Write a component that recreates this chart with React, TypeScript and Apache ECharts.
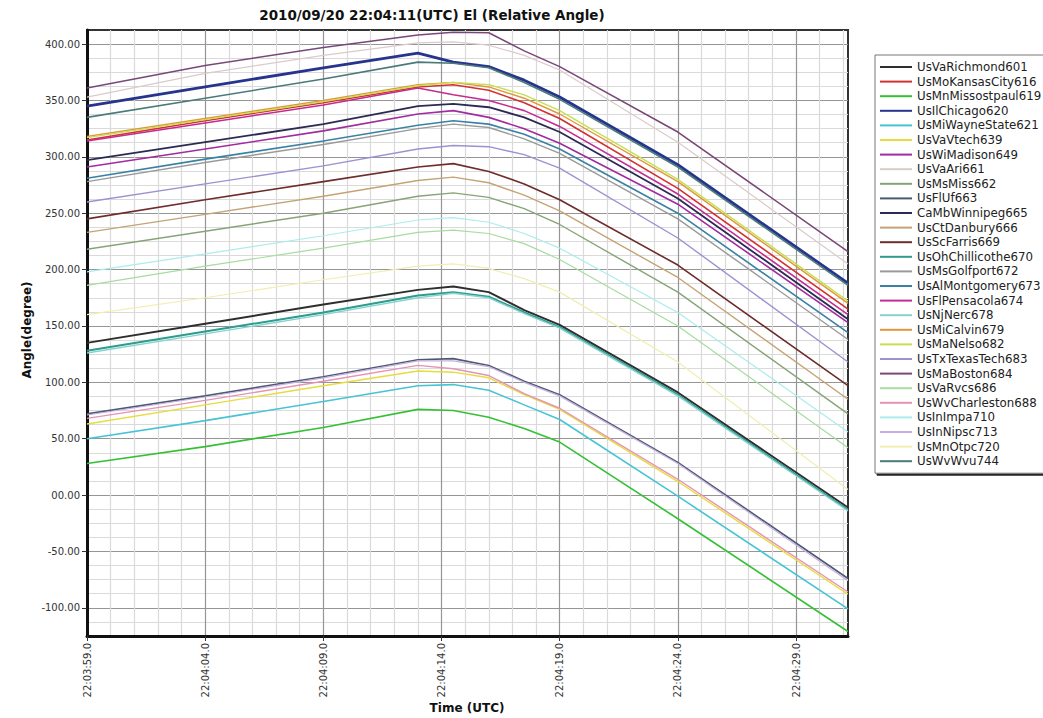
import React, { useEffect, useRef } from "react";
import * as echarts from "echarts";

// seconds after 22:03:59.0 (UTC)
const times = [0, 5, 10, 14, 15.5, 17, 18.5, 20, 25, 32.2];

const seriesNames = [
  "UsVaRichmond601", "UsMoKansasCity616", "UsMnMissostpaul619", "UsIlChicago620",
  "UsMiWayneState621", "UsVaVtech639", "UsWiMadison649", "UsVaAri661",
  "UsMsMiss662", "UsFlUf663", "CaMbWinnipeg665", "UsCtDanbury666",
  "UsScFarris669", "UsOhChillicothe670", "UsMsGolfport672", "UsAlMontgomery673",
  "UsFlPensacola674", "UsNjNerc678", "UsMiCalvin679", "UsMaNelso682",
  "UsTxTexasTech683", "UsMaBoston684", "UsVaRvcs686", "UsWvCharleston688",
  "UsInImpa710", "UsInNipsc713", "UsMnOtpc720", "UsWvWvu744",
];

const seriesColors = [
  "#2e2e2e", "#d43030", "#36c036", "#26348e",
  "#46c4d4", "#e6dc3c", "#a02ca0", "#dccaca",
  "#86a478", "#4c5a70", "#2a2a52", "#c4a474",
  "#6e2c2c", "#2e9c8c", "#9a9a9a", "#3a82a4",
  "#c42c92", "#86d2d2", "#e0963e", "#c4e050",
  "#9c92d2", "#7a4878", "#a8dca0", "#e494b4",
  "#acecec", "#c6aee2", "#f0eeb0", "#4a7a7a",
];

const seriesValues: number[][] = [
  [135, 152, 169, 182, 185, 180, 164, 151, 91, -11],      // UsVaRichmond601
  [315, 332, 348, 362, 364, 359, 348, 334, 272, 165],     // UsMoKansasCity616
  [28, 43, 60, 76, 75, 69, 59, 47, -21, -121],            // UsMnMissostpaul619
  [345, 362, 379, 392, 384, 380, 368, 353, 293, 188],     // UsIlChicago620
  [50, 66, 83, 97, 98, 93, 80, 67, -1, -101],             // UsMiWayneState621
  [63, 80, 97, 110, 109, 104, 89, 76, 12, -88],           // UsVaVtech639
  [291, 307, 323, 338, 341, 335, 325, 312, 258, 153],     // UsWiMadison649
  [353, 374, 390, 401, 402, 399, 390, 377, 313, 205],     // UsVaAri661
  [218, 234, 250, 265, 268, 264, 254, 240, 180, 72],      // UsMsMiss662
  [72, 88, 105, 120, 121, 115, 101, 89, 29, -74],         // UsFlUf663
  [297, 313, 329, 345, 347, 344, 335, 322, 263, 156],     // CaMbWinnipeg665
  [233, 249, 265, 279, 282, 277, 266, 252, 193, 85],      // UsCtDanbury666
  [245, 262, 278, 291, 294, 287, 276, 262, 204, 97],      // UsScFarris669
  [128, 145, 162, 177, 180, 176, 162, 149, 89, -13],      // UsOhChillicothe670
  [278, 295, 311, 325, 329, 326, 316, 303, 245, 138],     // UsMsGolfport672
  [281, 298, 314, 328, 332, 329, 320, 307, 250, 144],     // UsAlMontgomery673
  [314, 330, 346, 361, 355, 350, 341, 327, 267, 160],     // UsFlPensacola674
  [126, 143, 160, 175, 179, 175, 161, 148, 88, -14],      // UsNjNerc678
  [318, 334, 350, 364, 366, 362, 352, 338, 278, 170],     // UsMiCalvin679
  [317, 333, 349, 363, 366, 364, 355, 341, 280, 172],     // UsMaNelso682
  [260, 276, 292, 307, 310, 309, 302, 290, 228, 118],     // UsTxTexasTech683
  [361, 381, 397, 408, 410.5, 410, 394, 380, 322, 216],   // UsMaBoston684
  [186, 203, 219, 233, 235, 232, 223, 209, 150, 42],      // UsVaRvcs686
  [68, 84, 101, 115, 112, 106, 90, 77, 14, -86],          // UsWvCharleston688
  [198, 214, 230, 244, 246, 242, 232, 219, 162, 56],      // UsInImpa710
  [71, 87, 104, 119, 119, 114, 100, 88, 28, -76],         // UsInNipsc713
  [160, 175, 191, 203, 205, 201, 192, 180, 118, 5],       // UsMnOtpc720
  [335, 352, 369, 384, 383, 379, 366, 351, 291, 186],     // UsWvWvu744
];

const seriesWidths = [
  2, 1.6, 1.6, 2.8, 1.6, 1.4, 1.6, 1.2, 1.4, 1.6, 1.8, 1.4, 1.6, 2, 1.4, 1.6,
  1.6, 1.4, 1.4, 1.4, 1.4, 1.6, 1.2, 1.4, 1.2, 1.2, 1.2, 1.6,
];

const xMajorTicks = [0, 5, 10, 15, 20, 25, 30];
const yMajorTicks = [-100, -50, 0, 50, 100, 150, 200, 250, 300, 350, 400];

const X_MIN = 0;
const X_MAX = 32.2;
const Y_MIN = -125;
const Y_MAX = 412.5;

const TITLE = "2010/09/20 22:04:11(UTC) El (Relative Angle)";
const X_NAME = "Time (UTC)";
const Y_NAME = "Angle(degree)";

const BASE_SECONDS = 22 * 3600 + 3 * 60 + 59;

function fmtTime(t: number): string {
  const s = BASE_SECONDS + Math.round(t);
  const hh = Math.floor(s / 3600);
  const mm = Math.floor((s % 3600) / 60);
  const ss = s % 60;
  const p = (n: number) => (n < 10 ? "0" + n : "" + n);
  return `${p(hh)}:${p(mm)}:${p(ss)}.0`;
}

function fmtAngle(v: number): string {
  if (Math.abs(v) < 1e-9) return "00.00";
  return v.toFixed(2);
}

const MAJOR = "#959595";
const MINOR = "#dadada";
const LABEL_FONT = "DejaVu Sans";
const BOLD_FONT = "DejaVu Sans";

export default function App() {
  const ref = useRef<HTMLDivElement>(null);

  useEffect(() => {
    if (!ref.current) return;
    const chart = echarts.init(ref.current, undefined, { renderer: "svg" });

    const series = seriesNames.map((name, i) => ({
      name,
      type: "line",
      xAxisIndex: 0,
      yAxisIndex: 0,
      data: times.map((t, k) => [t, seriesValues[i][k]]),
      symbol: "none",
      showSymbol: false,
      color: seriesColors[i],
      lineStyle: { width: seriesWidths[i], color: seriesColors[i] },
      emphasis: { disabled: true },
    }));

    chart.setOption({
      animation: false,
      backgroundColor: "#ffffff",
      grid: {
        left: 87,
        right: 195,
        top: 30,
        bottom: 82,
        show: true,
        backgroundColor: "#ffffff",
        borderColor: "#333",
        borderWidth: 2,
        containLabel: false,
      },
      xAxis: [
        {
          type: "value",
          min: X_MIN,
          max: X_MAX,
          interval: 1,
          position: "bottom",
          axisLine: { show: true, onZero: false, lineStyle: { color: "#111", width: 3 } },
          axisTick: { show: false },
          axisLabel: { show: false },
          splitLine: {
            show: true,
            showMaxLine: false,
            lineStyle: { color: [MAJOR, MINOR, MINOR, MINOR, MINOR], width: 1.2 },
          },
        },
        {
          type: "value",
          min: X_MIN,
          max: X_MAX,
          position: "bottom",
          axisLine: { show: false, onZero: false },
          axisTick: {
            show: true,
            customValues: xMajorTicks,
            length: 5,
            lineStyle: { color: "#333", width: 1 },
          },
          axisLabel: {
            show: true,
            customValues: xMajorTicks,
            rotate: 90,
            margin: 7,
            formatter: (v: number) => fmtTime(v),
            fontFamily: LABEL_FONT,
            fontSize: 10,
            color: "#333",
          },
          splitLine: { show: false },
        },
      ],
      yAxis: [
        {
          type: "value",
          min: Y_MIN,
          max: Y_MAX,
          interval: 12.5,
          position: "left",
          axisLine: { show: true, onZero: false, lineStyle: { color: "#111", width: 3 } },
          axisTick: { show: false },
          axisLabel: { show: false },
          splitLine: {
            show: true,
            showMaxLine: false,
            lineStyle: { color: [MINOR, MINOR, MAJOR, MINOR], width: 1.2 },
          },
        },
        {
          type: "value",
          min: Y_MIN,
          max: Y_MAX,
          position: "left",
          axisLine: { show: false, onZero: false },
          axisTick: {
            show: true,
            customValues: yMajorTicks,
            length: 5,
            lineStyle: { color: "#333", width: 1 },
          },
          axisLabel: {
            show: true,
            customValues: yMajorTicks,
            margin: 7,
            formatter: (v: number) => fmtAngle(v),
            fontFamily: LABEL_FONT,
            fontSize: 10,
            color: "#333",
          },
          splitLine: { show: false },
        },
      ],
      legend: {
        orient: "vertical",
        left: 875,
        top: 55,
        padding: [6, 4, 6, 5],
        itemWidth: 32,
        itemHeight: 2,
        itemGap: 2.6,
        icon: "rect",
        selectedMode: false,
        backgroundColor: "#ffffff",
        borderColor: "#777",
        borderWidth: 1,
        shadowColor: "rgba(0,0,0,0.85)",
        shadowOffsetX: 2,
        shadowOffsetY: 2,
        shadowBlur: 0,
        textStyle: {
          fontFamily: LABEL_FONT,
          fontSize: 11.8,
          color: "#222",
          lineHeight: 12,
        },
        data: seriesNames,
      },
      graphic: [
        {
          type: "text",
          x: 432,
          y: 15,
          style: {
            text: TITLE,
            font: `bold 13.5px "${BOLD_FONT}", sans-serif`,
            fill: "#111",
            align: "center",
            verticalAlign: "middle",
          },
        },
        {
          type: "text",
          x: 467,
          y: 708,
          style: {
            text: X_NAME,
            font: `bold 12px "${BOLD_FONT}", sans-serif`,
            fill: "#111",
            align: "center",
            verticalAlign: "middle",
          },
        },
        {
          type: "text",
          x: 27,
          y: 330,
          rotation: Math.PI / 2,
          style: {
            text: Y_NAME,
            font: `bold 12px "${BOLD_FONT}", sans-serif`,
            fill: "#111",
            align: "center",
            verticalAlign: "middle",
          },
        },
      ],
      series,
    });

    return () => {
      chart.dispose();
    };
  }, []);

  return (
    <div
      ref={ref}
      style={{
        position: "fixed",
        left: 0,
        top: 0,
        width: 1043,
        height: 718,
        background: "#fff",
      }}
    />
  );
}
